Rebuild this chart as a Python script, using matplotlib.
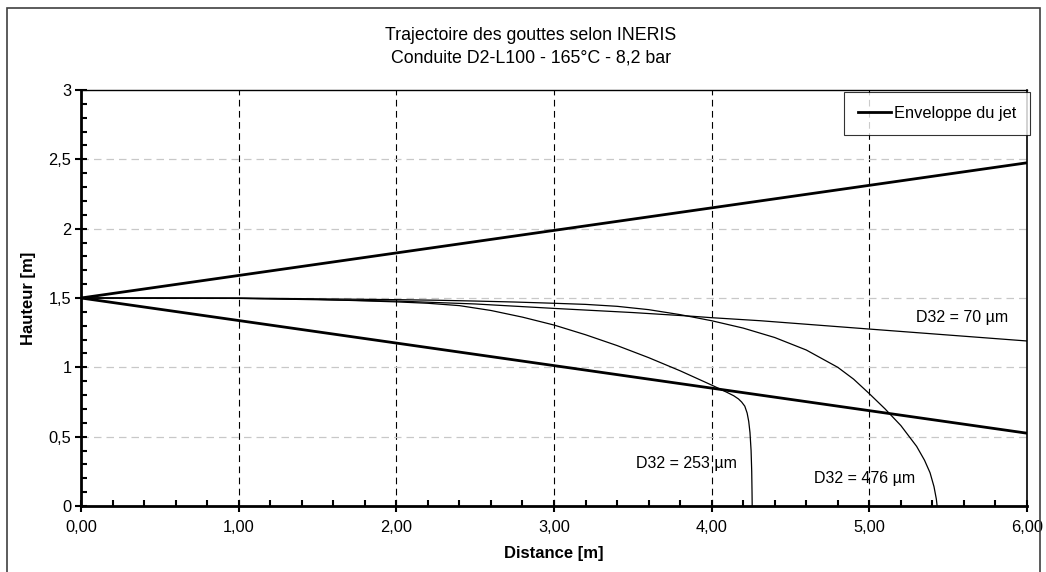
import numpy as np
import matplotlib.pyplot as plt
from matplotlib.patches import Rectangle
from matplotlib.ticker import MultipleLocator, FuncFormatter

plt.rcParams['font.family'] = ['Liberation Sans', 'DejaVu Sans']

# enveloppe du jet
env_x = [0.0, 6.0]
env_haut = [1.5, 2.475]
env_bas = [1.5, 0.525]

# trajectoires des gouttes
x_70 = [0.0, 1.0, 2.0, 2.5, 3.0, 3.25, 3.5, 3.88, 4.0, 4.31, 5.0, 6.0]
y_70 = [1.5, 1.497, 1.478, 1.457, 1.425, 1.41, 1.395, 1.368, 1.358, 1.336, 1.276, 1.19]

x_253 = [0.0, 0.5, 1.0, 1.5, 2.0, 2.2, 2.4, 2.6, 2.8, 3.0, 3.2, 3.4, 3.6, 3.8, 4.0,
         4.05, 4.1, 4.14, 4.17, 4.19, 4.21, 4.225, 4.235, 4.243, 4.25, 4.254, 4.256, 4.257]
y_253 = [1.5, 1.5, 1.498, 1.49, 1.472, 1.462, 1.445, 1.41, 1.362, 1.305, 1.235, 1.157,
         1.07, 0.975, 0.872, 0.845, 0.818, 0.795, 0.772, 0.75, 0.72, 0.67, 0.61, 0.53,
         0.40, 0.25, 0.10, 0.0]

x_476 = [0.0, 1.0, 2.0, 2.25, 2.5, 2.75, 3.0, 3.2, 3.4, 3.6, 3.8, 4.0, 4.2, 4.4, 4.6,
         4.8, 4.9, 5.0, 5.1, 5.2, 5.3, 5.35, 5.385, 5.41, 5.425, 5.43]
y_476 = [1.5, 1.5, 1.488, 1.484, 1.478, 1.471, 1.462, 1.454, 1.44, 1.416, 1.38, 1.336,
         1.283, 1.215, 1.125, 1.0, 0.915, 0.81, 0.70, 0.58, 0.43, 0.33, 0.24, 0.14,
         0.05, 0.0]

labels = ['D32 = 70 µm', 'D32 = 253 µm', 'D32 = 476 µm']
label_pos = [(5.59, 1.36), (3.84, 0.31), (4.97, 0.20)]

fig = plt.figure(figsize=(10.46, 5.72), dpi=100)
ax = fig.add_axes([81 / 1046, 1 - 506 / 572, (1027 - 81) / 1046, (506 - 90) / 572])

# cadre du graphique
fig.patches.append(Rectangle((7 / 1046, -0.05), (1040 - 7) / 1046, 1.05 - 8 / 572,
                             transform=fig.transFigure, fill=False,
                             edgecolor='#404040', linewidth=1.2))

# grilles
for xv in [1, 2, 3, 4, 5]:
    ax.axvline(xv, color='black', linestyle=(0, (6, 4)), linewidth=0.8, zorder=1)
for yv in [0.5, 1.0, 1.5, 2.0, 2.5]:
    ax.axhline(yv, color='#c8c8c8', linestyle=(0, (6, 4)), linewidth=0.9, zorder=1)

ax.plot(env_x, env_haut, color='black', linewidth=2.0, label='Enveloppe du jet', zorder=3)
ax.plot(env_x, env_bas, color='black', linewidth=2.0, zorder=3)
ax.plot(x_70, y_70, color='black', linewidth=0.9, zorder=3)
ax.plot(x_253, y_253, color='black', linewidth=0.9, zorder=3)
ax.plot(x_476, y_476, color='black', linewidth=0.9, zorder=3)

for txt, (tx, ty) in zip(labels, label_pos):
    ax.text(tx, ty, txt, fontsize=11.5, ha='center', va='center', zorder=4)

ax.set_xlim(0, 6)
ax.set_ylim(0, 3)
ax.xaxis.set_major_locator(MultipleLocator(1))
ax.xaxis.set_minor_locator(MultipleLocator(0.2))
ax.yaxis.set_major_locator(MultipleLocator(0.5))
ax.yaxis.set_minor_locator(MultipleLocator(0.1))
ax.xaxis.set_major_formatter(FuncFormatter(lambda v, p: f'{v:.2f}'.replace('.', ',')))
ax.yaxis.set_major_formatter(FuncFormatter(lambda v, p: f'{v:g}'.replace('.', ',')))

ax.tick_params(which='major', direction='inout', length=8, width=1.5, labelsize=11.8, pad=6)
ax.tick_params(which='minor', direction='in', length=4, width=1.5)
ax.tick_params(axis='y', which='major', pad=3)

ax.spines['left'].set_linewidth(2.0)
ax.spines['bottom'].set_linewidth(2.0)
ax.spines['top'].set_linewidth(1.0)
ax.spines['right'].set_linewidth(1.2)

ax.set_xlabel('Distance [m]', fontsize=12, fontweight='bold', labelpad=8)
ax.set_ylabel('Hauteur [m]', fontsize=12, fontweight='bold', labelpad=9)

fig.text(531 / 1046, 1 - 36 / 572, 'Trajectoire des gouttes selon INERIS',
         fontsize=12.8, ha='center', va='center')
fig.text(531 / 1046, 1 - 58 / 572, 'Conduite D2-L100 - 165°C - 8,2 bar',
         fontsize=12.8, ha='center', va='center')

leg = ax.legend(loc='upper right', bbox_to_anchor=(1030 / 1046, 1 - 92 / 572),
                bbox_transform=fig.transFigure, fontsize=11.8, frameon=True,
                fancybox=False, edgecolor='black', handlelength=2.0,
                borderpad=0.85, handletextpad=0.2, borderaxespad=0)
leg.get_frame().set_linewidth(0.8)

fig.savefig('out.png', dpi=100)
